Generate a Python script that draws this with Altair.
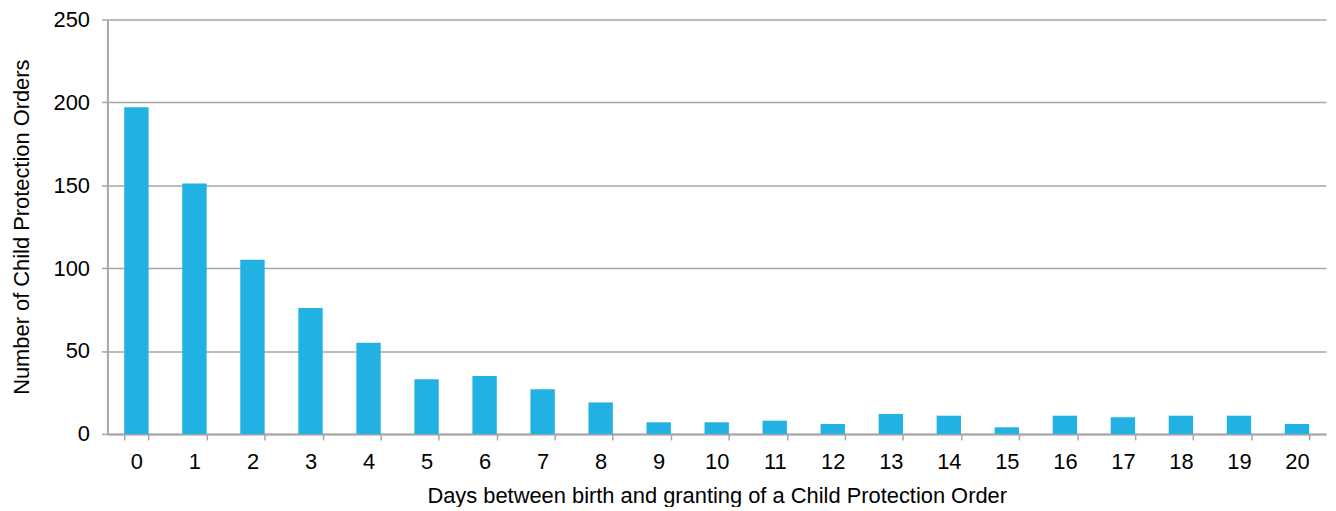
import altair as alt
import pandas as pd

days = [str(d) for d in range(21)]
orders = [197, 151, 105, 76, 55, 33, 35, 27, 19, 7, 7, 8, 6, 12, 11, 4, 11, 10, 11, 11, 6]

df = pd.DataFrame({"day": days, "orders": orders})

FONT = "Liberation Sans"
GRID = "#a6a6a6"

chart = (
    alt.Chart(df)
    .mark_bar(color="#21b1e3")
    .encode(
        x=alt.X(
            "day:O",
            sort=days,
            title="Days between birth and granting of a Child Protection Order",
            scale=alt.Scale(paddingInner=0.58, paddingOuter=0.29),
            axis=alt.Axis(
                labelAngle=0,
                tickBand="extent",
                tickSize=6,
                tickColor=GRID,
                tickWidth=1.5,
                domainColor=GRID,
                domainWidth=2,
                labelPadding=12,
                titlePadding=13,
                grid=False,
            ),
        ),
        y=alt.Y(
            "orders:Q",
            title="Number of Child Protection Orders",
            scale=alt.Scale(domain=[0, 250]),
            axis=alt.Axis(
                values=[0, 50, 100, 150, 200, 250],
                tickSize=6,
                tickColor=GRID,
                tickWidth=1.5,
                domainColor=GRID,
                domainWidth=2,
                gridColor=GRID,
                gridWidth=1.5,
                labelPadding=12,
                titlePadding=20,
            ),
        ),
    )
    .properties(
        width=1226,
        height=417,
        autosize=alt.AutoSizeParams(type="none"),
        padding={"left": 100, "top": 10, "right": 2, "bottom": 72},
    )
    .configure_view(stroke=None)
    .configure_axis(
        labelFont=FONT,
        titleFont=FONT,
        labelFontSize=22,
        titleFontSize=22,
        labelColor="#000000",
        titleColor="#000000",
        titleFontWeight="normal",
    )
)

chart.save("out.html", embed_options={"renderer": "svg", "actions": False})
